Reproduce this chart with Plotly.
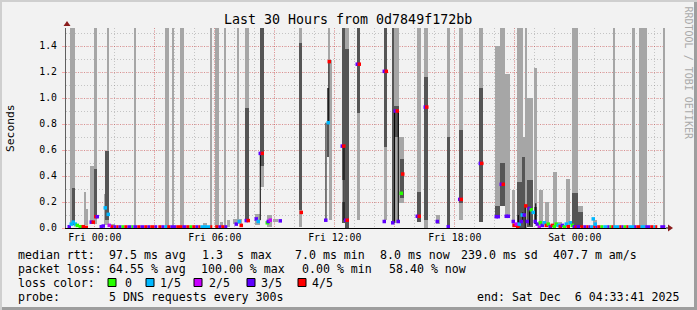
import plotly.graph_objects as go

# ---------------- data (hours relative to Fri 00:00) ----------------
t_start, t_end = -1.4386, 28.5614          # Thu 22:33:41 .. Sat 04:33:41
y_top = 1.5385

tick_hours = [0, 3, 6, 9, 12, 15, 18, 21, 24, 27]
tick_labels = ["Fri 00:00", "", "Fri 06:00", "", "Fri 12:00", "", "Fri 18:00", "", "Sat 00:00", ""]
ytick_vals = [0.0, 0.2, 0.4, 0.6, 0.8, 1.0, 1.2, 1.4]
ytick_labels = ["0.0", "0.2", "0.4", "0.6", "0.8", "1.0", "1.2", "1.4"]

# smoke bands: (t0, t1, low, high) in seconds; 2.0 = beyond graph top
smoke_light = [
    (-1.225, -0.99, 0.02, 2.0), (-0.56, -0.46, 0.02, 0.28), (-0.475, -0.325, 0.02, 0.146),
    (-0.225, -0.025, 0.03, 0.477), (-0.025, 0.125, 0.03, 2.0), (0.44, 0.61, 0.02, 0.26),
    (0.61, 0.725, 0.02, 2.0), (0.825, 1.025, 0.01, 0.03), (1.975, 2.025, 0.0, 2.0),
    (3.525, 3.725, 0.0, 2.0), (3.875, 3.96, 0.0, 2.0), (4.275, 4.46, 0.0, 2.0),
    (5.425, 5.625, 0.01, 0.035), (5.775, 5.875, 0.0, 2.0), (6.025, 6.225, 0.01, 2.0),
    (6.275, 6.425, 0.01, 0.05), (6.475, 6.525, 0.0, 2.0), (6.61, 6.775, 0.01, 0.06),
    (6.925, 7.375, 0.03, 0.07), (7.11, 7.21, 0.05, 2.0), (7.525, 7.725, 0.05, 2.0),
    (8.025, 8.275, 0.02, 0.11), (8.26, 8.475, 0.318, 0.48), (8.61, 8.86, 0.01, 0.1),
    (8.925, 9.175, 0.05, 0.07), (10.225, 10.375, 1.425, 2.0), (10.225, 10.375, 0.01, 0.138),
    (11.71, 11.78, 1.29, 2.0), (11.725, 11.875, 0.06, 1.29), (12.36, 12.525, 0.2, 0.37),
    (12.525, 12.725, 1.38, 2.0), (13.11, 13.275, 0.06, 0.887), (14.44, 14.61, 0.06, 0.625),
    (14.86, 15.225, 0.04, 2.0), (15.21, 15.475, 0.19, 0.7), (16.11, 16.29, 0.28, 2.0),
    (16.475, 16.64, 1.16, 2.0), (16.475, 16.64, 0.0, 0.06), (17.075, 17.24, 0.03, 0.1),
    (17.625, 17.76, 0.70, 2.0), (18.225, 18.39, 0.754, 2.0), (18.225, 18.39, 0.06, 0.19),
    (19.225, 19.39, 1.077, 2.0), (20.025, 20.26, 0.09, 1.40), (20.26, 20.49, 0.17, 2.0),
    (20.525, 20.74, 0.1, 1.185), (20.86, 21.025, 0.01, 0.29), (21.11, 21.39, 0.0, 2.0),
    (21.375, 21.525, 0.0, 0.7), (21.525, 21.625, 0.0, 2.0), (21.625, 21.91, 0.01, 1.0),
    (21.975, 22.125, 0.05, 1.23), (22.225, 22.425, 0.01, 0.29), (22.525, 22.725, 0.01, 0.2),
    (22.925, 23.125, 0.01, 0.43), (23.175, 23.375, 0.01, 0.05), (23.575, 23.775, 0.01, 0.38),
    (23.875, 24.14, 0.01, 2.0), (24.125, 24.425, 0.01, 0.17), (24.925, 25.125, 0.01, 0.06),
    (25.89, 25.99, 0.0, 2.0), (26.875, 27.025, 0.0, 2.0), (27.21, 27.49, 0.0, 2.0),
    (27.525, 27.61, 0.0, 2.0), (28.46, 28.525, 0.0, 2.0),
]
smoke_dark = [
    (-1.14, -0.99, 0.02, 0.31), (-0.025, 0.125, 0.08, 0.457), (0.525, 0.69, 0.06, 0.595),
    (7.525, 7.725, 0.06, 0.926), (8.26, 8.475, 0.48, 2.0), (10.225, 10.375, 0.138, 1.425),
    (11.61, 11.71, 0.55, 1.075), (12.36, 12.525, 0.37, 2.0), (12.36, 12.525, 0.04, 0.2),
    (12.525, 12.725, 0.0, 1.38), (13.11, 13.275, 0.887, 2.0), (14.44, 14.61, 0.625, 2.0),
    (14.86, 14.975, 0.04, 2.0), (14.975, 15.225, 0.70, 0.94), (15.275, 15.475, 0.23, 0.53),
    (16.11, 16.29, 0.05, 0.28), (16.475, 16.64, 0.06, 1.16), (17.625, 17.76, 0.0, 0.70),
    (18.225, 18.39, 0.19, 0.754), (19.225, 19.39, 0.05, 1.077), (20.025, 20.26, 0.1, 0.17),
    (20.26, 20.49, 0.17, 0.497), (21.11, 21.39, 0.0, 0.356), (21.375, 21.525, 0.0, 0.548),
    (21.625, 21.91, 0.01, 0.37), (21.975, 22.125, 0.03, 0.16), (23.875, 24.14, 0.01, 0.27),
    (24.125, 24.425, 0.01, 0.12),
]
# median rtt points: (t, seconds, lost pings of 5)
median_pts = [
    (-1.275, 0.01, 3), (-1.175, 0.03, 1), (-1.075, 0.045, 1), (-0.975, 0.03, 1), (-0.875, 0.02, 0),
    (-0.725, 0.01, 0), (-0.575, 0.01, 4), (-0.425, 0.005, 4), (-0.175, 0.045, 3), (-0.075, 0.045, 4),
    (0.05, 0.087, 4), (0.125, 0.087, 3), (0.325, 0.01, 3), (0.425, 0.015, 3), (0.525, 0.155, 1),
    (0.675, 0.105, 1), (0.725, 0.02, 2), (7.075, 0.03, 3), (7.225, 0.05, 1), (7.325, 0.02, 4),
    (7.575, 0.057, 3), (7.675, 0.057, 4), (8.075, 0.07, 3), (8.175, 0.05, 1), (8.275, 0.574, 3),
    (8.375, 0.574, 4), (8.625, 0.04, 0), (8.675, 0.05, 3), (8.775, 0.06, 2), (9.275, 0.055, 3),
    (10.325, 0.12, 4), (11.55, 0.06, 3), (11.675, 0.81, 1), (11.725, 1.28, 4), (12.375, 0.63, 3),
    (12.45, 0.63, 4), (12.55, 0.06, 3), (12.625, 0.06, 4), (13.125, 1.26, 3), (13.225, 1.26, 4),
    (14.475, 1.205, 3), (14.575, 1.205, 4), (14.475, 0.05, 3), (14.9, 0.04, 3), (15.025, 0.9, 3),
    (15.125, 0.9, 4), (15.175, 0.05, 3), (15.325, 0.267, 0), (15.4, 0.415, 4), (16.125, 0.09, 3),
    (16.225, 0.09, 4), (16.525, 0.93, 3), (16.6, 0.93, 4), (17.125, 0.05, 3), (17.675, 0.01, 3),
    (18.25, 0.22, 3), (18.325, 0.22, 4), (19.275, 0.497, 3), (19.35, 0.497, 4), (20.075, 0.087, 3),
    (20.175, 0.087, 3), (20.325, 0.336, 3), (20.425, 0.336, 4), (20.575, 0.09, 3), (20.675, 0.09, 3),
    (20.925, 0.05, 3), (20.975, 0.02, 4), (21.075, 0.03, 2), (21.15, 0.005, 4), (21.225, 0.03, 1),
    (21.325, 0.05, 3), (21.375, 0.1, 1), (21.475, 0.1, 3), (21.55, 0.17, 4), (21.625, 0.05, 3),
    (21.725, 0.15, 3), (21.825, 0.14, 0), (21.925, 0.12, 1), (22.025, 0.05, 3), (22.125, 0.03, 3),
    (22.225, 0.005, 2), (22.275, 0.04, 0), (22.375, 0.02, 3), (22.475, 0.04, 1), (22.575, 0.02, 4),
    (22.675, 0.03, 0), (22.775, 0.01, 3), (22.875, 0.02, 4), (22.975, 0.01, 0), (23.075, 0.03, 0),
    (23.175, 0.02, 1), (23.275, 0.01, 4), (23.375, 0.02, 3), (23.475, 0.01, 0), (23.575, 0.03, 1),
    (23.675, 0.01, 4), (23.775, 0.04, 1), (23.875, 0.02, 0), (23.975, 0.01, 3), (24.075, 0.005, 4),
    (24.175, 0.01, 3), (24.925, 0.07, 1), (25.025, 0.03, 1),
]
# runs of median near zero: (t0, t1, lost pings)
median_runs = [
    (0.775, 0.925, 4), (0.925, 1.075, 3), (1.075, 1.175, 4), (1.175, 1.325, 3), (1.325, 1.475, 0),
    (1.475, 1.625, 4), (1.625, 1.825, 3), (1.825, 1.925, 0), (1.925, 2.125, 3), (2.125, 2.275, 4),
    (2.275, 2.475, 3), (2.475, 2.625, 4), (2.625, 2.775, 3), (2.775, 2.975, 4), (2.975, 3.125, 3),
    (3.175, 3.325, 4), (3.325, 3.475, 3), (3.475, 3.625, 1), (3.625, 3.775, 4), (3.775, 4.075, 3),
    (4.075, 4.375, 4), (4.375, 4.575, 3), (4.575, 4.725, 4), (4.725, 4.875, 0), (4.875, 5.025, 4),
    (5.025, 5.175, 3), (5.175, 5.275, 4), (5.275, 5.775, 1), (5.775, 5.875, 4), (6.025, 6.175, 4),
    (6.175, 6.325, 3), (6.325, 6.475, 4), (6.475, 6.625, 3),
    (24.275, 24.425, 4), (24.425, 24.575, 3), (24.575, 24.675, 4), (24.675, 24.775, 3),
    (24.775, 24.925, 1), (24.925, 25.025, 4), (25.025, 25.125, 3), (25.125, 25.275, 4),
    (25.275, 25.425, 0), (25.425, 25.625, 1), (25.625, 25.725, 3), (25.725, 25.825, 0),
    (25.825, 25.925, 4), (25.925, 26.225, 1), (26.225, 26.325, 4), (26.325, 26.425, 3),
    (26.425, 26.575, 0), (26.575, 26.675, 4), (26.675, 26.975, 1), (26.975, 27.075, 3),
    (27.075, 27.275, 4), (27.275, 27.525, 1), (27.525, 27.775, 3), (27.775, 27.925, 4),
    (27.925, 28.025, 1), (28.025, 28.125, 4), (28.275, 28.525, 3),
]
run_level = 0.01
# vertical median transitions: (t, from, to)
median_steps = [
    (8.275, 0.06, 0.574), (11.56, 0.06, 0.81), (11.705, 0.81, 1.28), (12.46, 0.06, 0.63),
    (14.99, 0.04, 0.9), (15.175, 0.06, 0.9), (21.175, 0.03, 0.1), (21.4, 0.05, 0.12),
    (21.525, 0.0, 0.17), (21.74, 0.02, 0.15), (22.05, 0.03, 0.19),
]
loss_colors = ["#26ff00", "#00b8ff", "#c800ff", "#5e00ff", "#ff0000"]
loss_names = ["0", "1/5", "2/5", "3/5", "4/5"]

legend_line1 = [(16, "median rtt:"), (107, "97.5 ms avg"), (200, "1.3  s max"), (293, "7.0 ms min"),
                (378, "8.0 ms now"), (459, "239.0 ms sd"), (551, "407.7 m am/s")]
legend_line2 = [(16, "packet loss:"), (107, "64.55 % avg"), (199, "100.00 % max"),
                (300, "0.00 % min"), (387, "58.40 % now")]
probe_text = "5 DNS requests every 300s"
end_text = "end: Sat Dec  6 04:33:41 2025"
title_text = "Last 30 Hours from 0d7849f172bb"

# ---------------- layout geometry ----------------
W, H = 697, 310
ML, MR, MT, MB = 66, 31, 28, 82
PW, PH = W - ML - MR, H - MT - MB
MONO = "DejaVu Sans Mono"


def fx(p):
    return (p - ML) / PW


def fy(p):
    return (H - MB - p) / PH


def nb(s):
    return s.replace(" ", "\u00a0")


fig = go.Figure()


def bar_trace(segs, color):
    return go.Bar(
        x=[(a + b) / 2 for a, b, lo, hi in segs],
        y=[hi - lo for a, b, lo, hi in segs],
        base=[lo for a, b, lo, hi in segs],
        width=[b - a for a, b, lo, hi in segs],
        marker=dict(color=color, line=dict(width=0)),
        hoverinfo="skip", showlegend=False,
    )


fig.add_trace(bar_trace(smoke_light, "#a6a6a6"))
fig.add_trace(bar_trace(smoke_dark, "#555555"))

sx, sy = [], []
for t, a, b in median_steps:
    sx += [t, t, None]
    sy += [a, b, None]
fig.add_trace(go.Scatter(x=sx, y=sy, mode="lines", line=dict(color="#000000", width=1),
                         hoverinfo="skip", showlegend=False))

for k, col in enumerate(loss_colors):
    rx, ry = [], []
    for a, b, l in median_runs:
        if l == k:
            rx += [a, b, None]
            ry += [run_level, run_level, None]
    if rx:
        fig.add_trace(go.Scatter(x=rx, y=ry, mode="lines", line=dict(color=col, width=3),
                                 hoverinfo="skip", showlegend=False))

fig.add_trace(go.Scatter(
    x=[p[0] for p in median_pts], y=[p[1] for p in median_pts], mode="markers",
    marker=dict(symbol="square", size=3.5, color=[loss_colors[p[2]] for p in median_pts],
                line=dict(width=0)),
    hoverinfo="skip", showlegend=False))

red_grid = "rgba(255,0,0,0.26)"
gray_grid = "rgba(120,120,120,0.38)"

fig.update_layout(
    width=W, height=H, margin=dict(l=ML, r=MR, t=MT, b=MB),
    paper_bgcolor="#f2f2f2", plot_bgcolor="#ffffff",
    barmode="overlay", bargap=0, showlegend=False,
    font=dict(family=MONO, color="#000000"),
    xaxis=dict(range=[t_start, t_end], tickvals=tick_hours, ticktext=tick_labels,
               showgrid=True, gridcolor=red_grid, griddash="1px,1px", gridwidth=1,
               minor=dict(dtick=1, tick0=0, showgrid=True, gridcolor=gray_grid, griddash="1px,2px"),
               zeroline=False, showline=True, linecolor="#000000", linewidth=1,
               ticks="", tickfont=dict(family=MONO, size=9.8, color="#000"), fixedrange=True),
    yaxis=dict(range=[0, y_top], tickvals=ytick_vals, ticktext=ytick_labels,
               showgrid=True, gridcolor=red_grid, griddash="1px,1px", gridwidth=1,
               minor=dict(dtick=0.1, tick0=0, showgrid=True, gridcolor=gray_grid, griddash="1px,2px"),
               zeroline=False, showline=True, linecolor="#606060", linewidth=1,
               ticks="outside", ticklen=3, tickcolor="rgba(255,0,0,0.3)",
               ticklabelstandoff=3,
               tickfont=dict(family=MONO, size=9.8, color="#000"), fixedrange=True),
)

shapes = []
# outer frame
shapes.append(dict(type="rect", xref="paper", yref="paper", x0=fx(0), x1=fx(W), y0=fy(H), y1=fy(0),
                   line=dict(width=0), fillcolor="#cfcfcf", layer="below"))
shapes.append(dict(type="rect", xref="paper", yref="paper", x0=fx(2), x1=fx(W), y0=fy(H), y1=fy(2),
                   line=dict(width=0), fillcolor="#9e9e9e", layer="below"))
shapes.append(dict(type="rect", xref="paper", yref="paper", x0=fx(2), x1=fx(W - 3), y0=fy(H - 3), y1=fy(2),
                   line=dict(width=0), fillcolor="#f2f2f2", layer="below"))
# axis arrows
arrow = "#8a1c1c"
shapes.append(dict(type="path", xref="paper", yref="paper",
                   path=f"M {fx(63.5)},{fy(26)} L {fx(70.5)},{fy(26)} L {fx(67)},{fy(21)} Z",
                   fillcolor=arrow, line=dict(width=0)))
shapes.append(dict(type="line", xref="paper", yref="paper", x0=fx(666), x1=fx(668), y0=fy(228), y1=fy(228),
                   line=dict(color="#000", width=1)))
shapes.append(dict(type="path", xref="paper", yref="paper",
                   path=f"M {fx(668)},{fy(224.5)} L {fx(668)},{fy(231.5)} L {fx(673)},{fy(228)} Z",
                   fillcolor=arrow, line=dict(width=0)))
# loss colour legend boxes
box_x = [108, 146, 194, 247, 298]
label_x = [123, 158, 207, 259, 310]
for k in range(5):
    shapes.append(dict(type="rect", xref="paper", yref="paper", x0=fx(box_x[k]), x1=fx(box_x[k] + 8),
                       y0=fy(286.5), y1=fy(278.5), fillcolor=loss_colors[k],
                       line=dict(color="#000000", width=1)))
fig.update_layout(shapes=shapes)

ann = []
LEG = 11.6
ann.append(dict(text=nb(title_text), x=fx(347.5), y=fy(19), xref="paper", yref="paper",
                xanchor="center", yanchor="middle", showarrow=False,
                font=dict(family=MONO, size=13.3, color="#000")))
ann.append(dict(text="Seconds", x=fx(10), y=fy(128), xref="paper", yref="paper", textangle=-90,
                xanchor="center", yanchor="middle", showarrow=False,
                font=dict(family=MONO, size=11.3, color="#000")))
ann.append(dict(text=nb("RRDTOOL / TOBI OETIKER"), x=fx(688), y=fy(4), xref="paper", yref="paper",
                textangle=90, xanchor="center", yanchor="top", showarrow=False,
                font=dict(family=MONO, size=10, color="#aaaaaa")))
for line_y, chunks in ((255, legend_line1), (269, legend_line2)):
    for x, s in chunks:
        ann.append(dict(text=nb(s), x=fx(x), y=fy(line_y), xref="paper", yref="paper",
                        xanchor="left", yanchor="middle", showarrow=False,
                        font=dict(family=MONO, size=LEG, color="#000")))
ann.append(dict(text=nb("loss color:"), x=fx(16), y=fy(283), xref="paper", yref="paper",
                xanchor="left", yanchor="middle", showarrow=False, font=dict(family=MONO, size=LEG)))
for k in range(5):
    ann.append(dict(text=loss_names[k], x=fx(label_x[k]), y=fy(283), xref="paper", yref="paper",
                    xanchor="left", yanchor="middle", showarrow=False, font=dict(family=MONO, size=LEG)))
ann.append(dict(text=nb("probe:"), x=fx(16), y=fy(297), xref="paper", yref="paper",
                xanchor="left", yanchor="middle", showarrow=False, font=dict(family=MONO, size=LEG)))
ann.append(dict(text=nb(probe_text), x=fx(107), y=fy(297), xref="paper", yref="paper",
                xanchor="left", yanchor="middle", showarrow=False, font=dict(family=MONO, size=LEG)))
ann.append(dict(text=nb(end_text), x=fx(681), y=fy(297), xref="paper", yref="paper",
                xanchor="right", yanchor="middle", showarrow=False, font=dict(family=MONO, size=LEG)))
fig.update_layout(annotations=ann)

fig.write_html("out.html", config={"displayModeBar": False})
